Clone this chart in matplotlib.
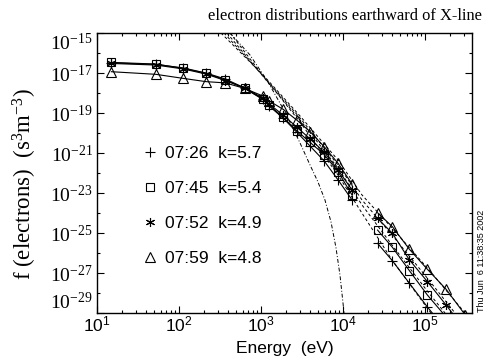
import numpy as np
import matplotlib
matplotlib.use('Agg')
import matplotlib.pyplot as plt
from matplotlib.ticker import FixedLocator, FixedFormatter, NullFormatter
from matplotlib.lines import Line2D

plt.rcParams['font.family'] = ['Liberation Serif', 'DejaVu Serif']
plt.rcParams['mathtext.fontset'] = 'custom'
plt.rcParams['mathtext.rm'] = 'Liberation Serif'
plt.rcParams['mathtext.it'] = 'Liberation Serif:italic'
plt.rcParams['mathtext.bf'] = 'Liberation Serif:bold'
plt.rcParams['mathtext.sf'] = 'Liberation Sans'

# ---------------- data ----------------
energy_low = [15, 52, 112, 213, 367, 630, 1050, 1260, 1860, 2720, 3980, 5890, 8710, 12900]
energy_high = [26400, 40000, 64600, 107000, 181000, 310000]

labels = ['07:26  k=5.7', '07:45  k=5.4', '07:52  k=4.9', '07:59  k=4.8']

f0726_low = [3.2e-17, 2.7e-17, 1.8e-17, 1.0e-17, 5.0e-18, 1.8e-18, 5.0e-19, 2.2e-19,
             5.6e-20, 1.12e-20, 2.2e-21, 4.0e-22, 4.5e-23, 4.5e-24]
f0726_high = [3.05e-26, 4.1e-27, 3.05e-28, 2.0e-29, 1.4e-30]

f0745_low = [3.4e-17, 2.8e-17, 1.7e-17, 9.7e-18, 4.5e-18, 1.7e-18, 4.8e-19, 2.5e-19,
             6.1e-20, 1.33e-20, 3.35e-21, 8.4e-22, 1.16e-22, 7.9e-24]
f0745_high = [1.4e-25, 1.93e-26, 1.3e-27, 7.9e-29, 6.3e-30]

f0752_low = [3.0e-17, 2.5e-17, 1.6e-17, 8.9e-18, 4.2e-18, 1.8e-18, 5.6e-19, 2.8e-19,
             7.9e-20, 2.0e-20, 5.0e-21, 1.12e-21, 1.41e-22, 1.41e-23]
f0752_high = [5.4e-25, 9.7e-26, 4.5e-27, 3.7e-28, 2.5e-29, 1.4e-30]

f0759_low = [1.16e-17, 8.6e-18, 5.4e-18, 3.7e-18, 3.2e-18, 1.7e-18, 7.1e-19, 4.0e-19,
             1.53e-19, 4.5e-20, 1.16e-20, 2.07e-21, 3.05e-22, 2.8e-23]
f0759_high = [1.03e-24, 2.07e-25, 1.53e-26, 1.53e-27, 1.53e-28, 7.9e-30]

# kappa fits (dashed), log10 energy / log10 f
fit0726_logE = [2.622, 3.085, 3.476, 3.939, 4.207, 4.598, 5.0, 5.073]
fit0726_logf = [-15.0, -17.45, -19.45, -22.1, -23.85, -26.35, -28.6, -29.0]
fit0745_logE = [2.585, 3.061, 3.476, 3.939, 4.232, 4.598, 5.037, 5.244]
fit0745_logf = [-15.0, -17.35, -19.35, -21.75, -23.6, -25.6, -27.95, -29.0]
fit0752_logE = [2.549, 3.049, 3.476, 3.939, 4.232, 4.598, 5.037, 5.366]
fit0752_logf = [-15.0, -17.25, -19.25, -21.6, -23.35, -25.1, -27.3, -29.0]
fit0759_logE = [2.512, 3.037, 3.476, 3.939, 4.232, 4.598, 5.061, 5.488]
fit0759_logf = [-15.0, -17.15, -19.15, -21.35, -23.1, -24.75, -26.9, -29.0]

# core (dash-dot) curve
core_logE = [2.622, 2.866, 3.085, 3.293, 3.476, 3.598, 3.695, 3.780, 3.854, 3.915, 3.963, 4.0, 4.012]
core_logf = [-15.0, -16.1, -17.45, -18.95, -20.5, -21.6, -22.45, -23.35, -24.45, -25.75, -27.1, -28.5, -29.0]

xtick_vals = [1e1, 1e2, 1e3, 1e4, 1e5]
xtick_labels = [r'$\mathsf{10^{1}}$', r'$\mathsf{10^{2}}$', r'$\mathsf{10^{3}}$',
                r'$\mathsf{10^{4}}$', r'$\mathsf{10^{5}}$']
ytick_exps = [-15, -17, -19, -21, -23, -25, -27, -29]

# ---------------- figure ----------------
W, H = 489, 362
fig = plt.figure(figsize=(W / 100, H / 100), dpi=100)
ax = fig.add_axes([97 / W, 1 - 313 / H, 375 / W, 280 / H])

series = [
    (f0726_low, f0726_high, dict(marker='+', ms=7, mew=0.8)),
    (f0745_low, f0745_high, dict(marker='s', ms=6, mew=0.8, mfc='none')),
    (f0752_low, f0752_high, dict(marker=(6, 2, 0), ms=6.5, mew=0.8)),
    (f0759_low, f0759_high, dict(marker='^', ms=6.5, mew=0.8, mfc='none')),
]
for lo, hi, st in series:
    ax.plot(energy_low[:len(lo)], lo, color='black', lw=0.8, **st)
    ax.plot(energy_high[:len(hi)], hi, color='black', lw=0.8, **st)

for le, lf in [(fit0726_logE, fit0726_logf), (fit0745_logE, fit0745_logf),
               (fit0752_logE, fit0752_logf), (fit0759_logE, fit0759_logf)]:
    ax.plot(10 ** np.array(le), 10 ** np.array(lf), color='black', lw=0.7,
            dashes=(3.0, 2.5))

ax.plot(10 ** np.array(core_logE), 10 ** np.array(core_logf), color='black', lw=0.7,
        dashes=(4.0, 2.0, 1.0, 2.0))

ax.set_xscale('log')
ax.set_yscale('log')
ax.set_xlim(10, 10 ** (1 + 375 / 82))
ax.set_ylim(1e-29, 1e-15)

ax.xaxis.set_major_locator(FixedLocator(xtick_vals))
ax.xaxis.set_major_formatter(FixedFormatter(xtick_labels))
xminor = [m * 10.0 ** d for d in range(1, 6) for m in range(2, 10)]
ax.xaxis.set_minor_locator(FixedLocator(xminor))
ax.xaxis.set_minor_formatter(NullFormatter())

ax.yaxis.set_major_locator(FixedLocator([10.0 ** e for e in ytick_exps]))
ax.yaxis.set_major_formatter(FixedFormatter([r'$10^{%d}$' % e for e in ytick_exps]))
ax.yaxis.set_minor_locator(FixedLocator([10.0 ** (e - 1) for e in ytick_exps[:-1]]))
ax.yaxis.set_minor_formatter(NullFormatter())

ax.tick_params(which='both', direction='in', top=True, right=True, width=0.8)
ax.tick_params(which='major', length=5)
ax.tick_params(which='minor', length=2.5)
ax.tick_params(axis='x', which='major', labelsize=12.5, pad=2)
ax.tick_params(axis='y', which='major', labelsize=14, pad=3)
for sp in ax.spines.values():
    sp.set_linewidth(1.0)

ylabs = ax.get_yticklabels()
ylabs[0].set_va('top')
ylabs[-1].set_va('bottom')

# legend
handles = [Line2D([], [], color='black', ls='none', **st) for _, _, st in series]
leg = ax.legend(handles, labels, loc='upper left', bbox_to_anchor=(0.1227, 0.596),
                frameon=False, handlelength=0.8, handletextpad=0.45, borderpad=0,
                borderaxespad=0, labelspacing=1.13,
                prop={'family': 'Liberation Sans', 'size': 12.5})

# texts
fig.text(482 / W, 1 - 20 / H, 'electron distributions earthward of X-line',
         ha='right', va='baseline', fontsize=11.9, family='Liberation Serif')
fig.text(285 / W, 1 - 349 / H, 'Energy  (eV)', ha='center', va='center',
         fontsize=12.5, family='Liberation Sans')
fig.text(25 / W, 1 - 184 / H, r'f (electrons)  (s$^{3}$m$^{-3}$)', rotation=90,
         ha='center', va='center', fontsize=16.5, family='Liberation Serif')
fig.text(482 / W, 1 - 312 / H, 'Thu Jun  6 11:38:35 2002', rotation=90,
         ha='center', va='bottom', fontsize=6.5, family='Liberation Sans')

fig.savefig('out.png', dpi=100)
